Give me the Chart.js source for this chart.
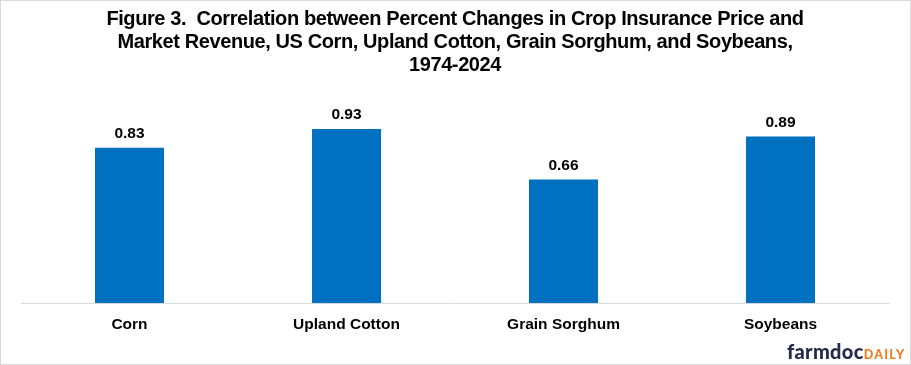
<!DOCTYPE html>
<html><head><meta charset="utf-8">
<script src="https://cdn.jsdelivr.net/npm/chart.js@4"></script>
<style>html,body{margin:0;padding:0;background:#fff}#w{width:911px;height:365px;position:relative}</style>
</head><body><div id="w"><canvas id="c" width="911" height="365"></canvas></div>
<script>
const categories = ["Corn", "Upland Cotton", "Grain Sorghum", "Soybeans"];
const correlations = [0.83, 0.93, 0.66, 0.89];
const titleLines = [
  "Figure 3.  Correlation between Percent Changes in Crop Insurance Price and",
  "Market Revenue, US Corn, Upland Cotton, Grain Sorghum, and Soybeans,",
  "1974-2024"
];

const deco = {
  id: 'deco',
  afterDraw(chart) {
    const ctx = chart.ctx;
    ctx.save();
    // title
    ctx.fillStyle = '#000';
    ctx.font = 'bold 20px "Liberation Sans", Arial, sans-serif';
    ctx.letterSpacing = '-0.4px';
    ctx.textAlign = 'center';
    ctx.textBaseline = 'middle';
    titleLines.forEach((t, i) => ctx.fillText(t, 455, 19 + i * 23));
    ctx.letterSpacing = '0px';
    // data labels
    const meta = chart.getDatasetMeta(0);
    ctx.font = 'bold 15.5px "Liberation Sans", Arial, sans-serif';
    ctx.textBaseline = 'middle';
    meta.data.forEach((bar, i) => {
      ctx.fillText(correlations[i].toFixed(2), bar.x, bar.y - 14);
    });
    // logo
    ctx.textAlign = 'left';
    ctx.textBaseline = 'alphabetic';
    ctx.fillStyle = '#262b4d';
    ctx.font = '900 20px Lato, "Open Sans", sans-serif';
    const fx = 787;
    ctx.letterSpacing = '0.3px';
    ctx.fillText('farmdoc', fx, 359);
    const w = ctx.measureText('farmdoc').width;
    ctx.fillStyle = '#f47b20';
    ctx.font = '900 12.5px Lato, "Open Sans", sans-serif';
    ctx.letterSpacing = '1.3px';
    ctx.fillText('DAILY', fx + w, 359);
    ctx.letterSpacing = '0px';
    // border
    ctx.strokeStyle = '#d9d9d9';
    ctx.lineWidth = 1;
    ctx.strokeRect(0.5, 0.5, 910, 364);
    ctx.restore();
  }
};

new Chart(document.getElementById('c'), {
  type: 'bar',
  data: {
    labels: categories,
    datasets: [{
      data: correlations,
      backgroundColor: '#0070c0',
      barPercentage: 0.318,
      categoryPercentage: 1.0
    }]
  },
  options: {
    responsive: false,
    animation: false,
    events: [],
    layout: { padding: { left: 21, right: 22, top: 116, bottom: 0 } },
    plugins: { legend: { display: false }, title: { display: false }, tooltip: { enabled: false } },
    scales: {
      x: {
        grid: { display: false, drawTicks: false },
        border: { display: true, color: '#d9d9d9', width: 1 },
        ticks: {
          color: '#000',
          padding: 12,
          font: { family: '"Liberation Sans", Arial, sans-serif', weight: 'bold', size: 15.5 }
        },
        afterFit(s) { s.height = 62; }
      },
      y: {
        display: false,
        min: 0,
        max: 1
      }
    }
  },
  plugins: [deco]
});
</script>
</body></html>
